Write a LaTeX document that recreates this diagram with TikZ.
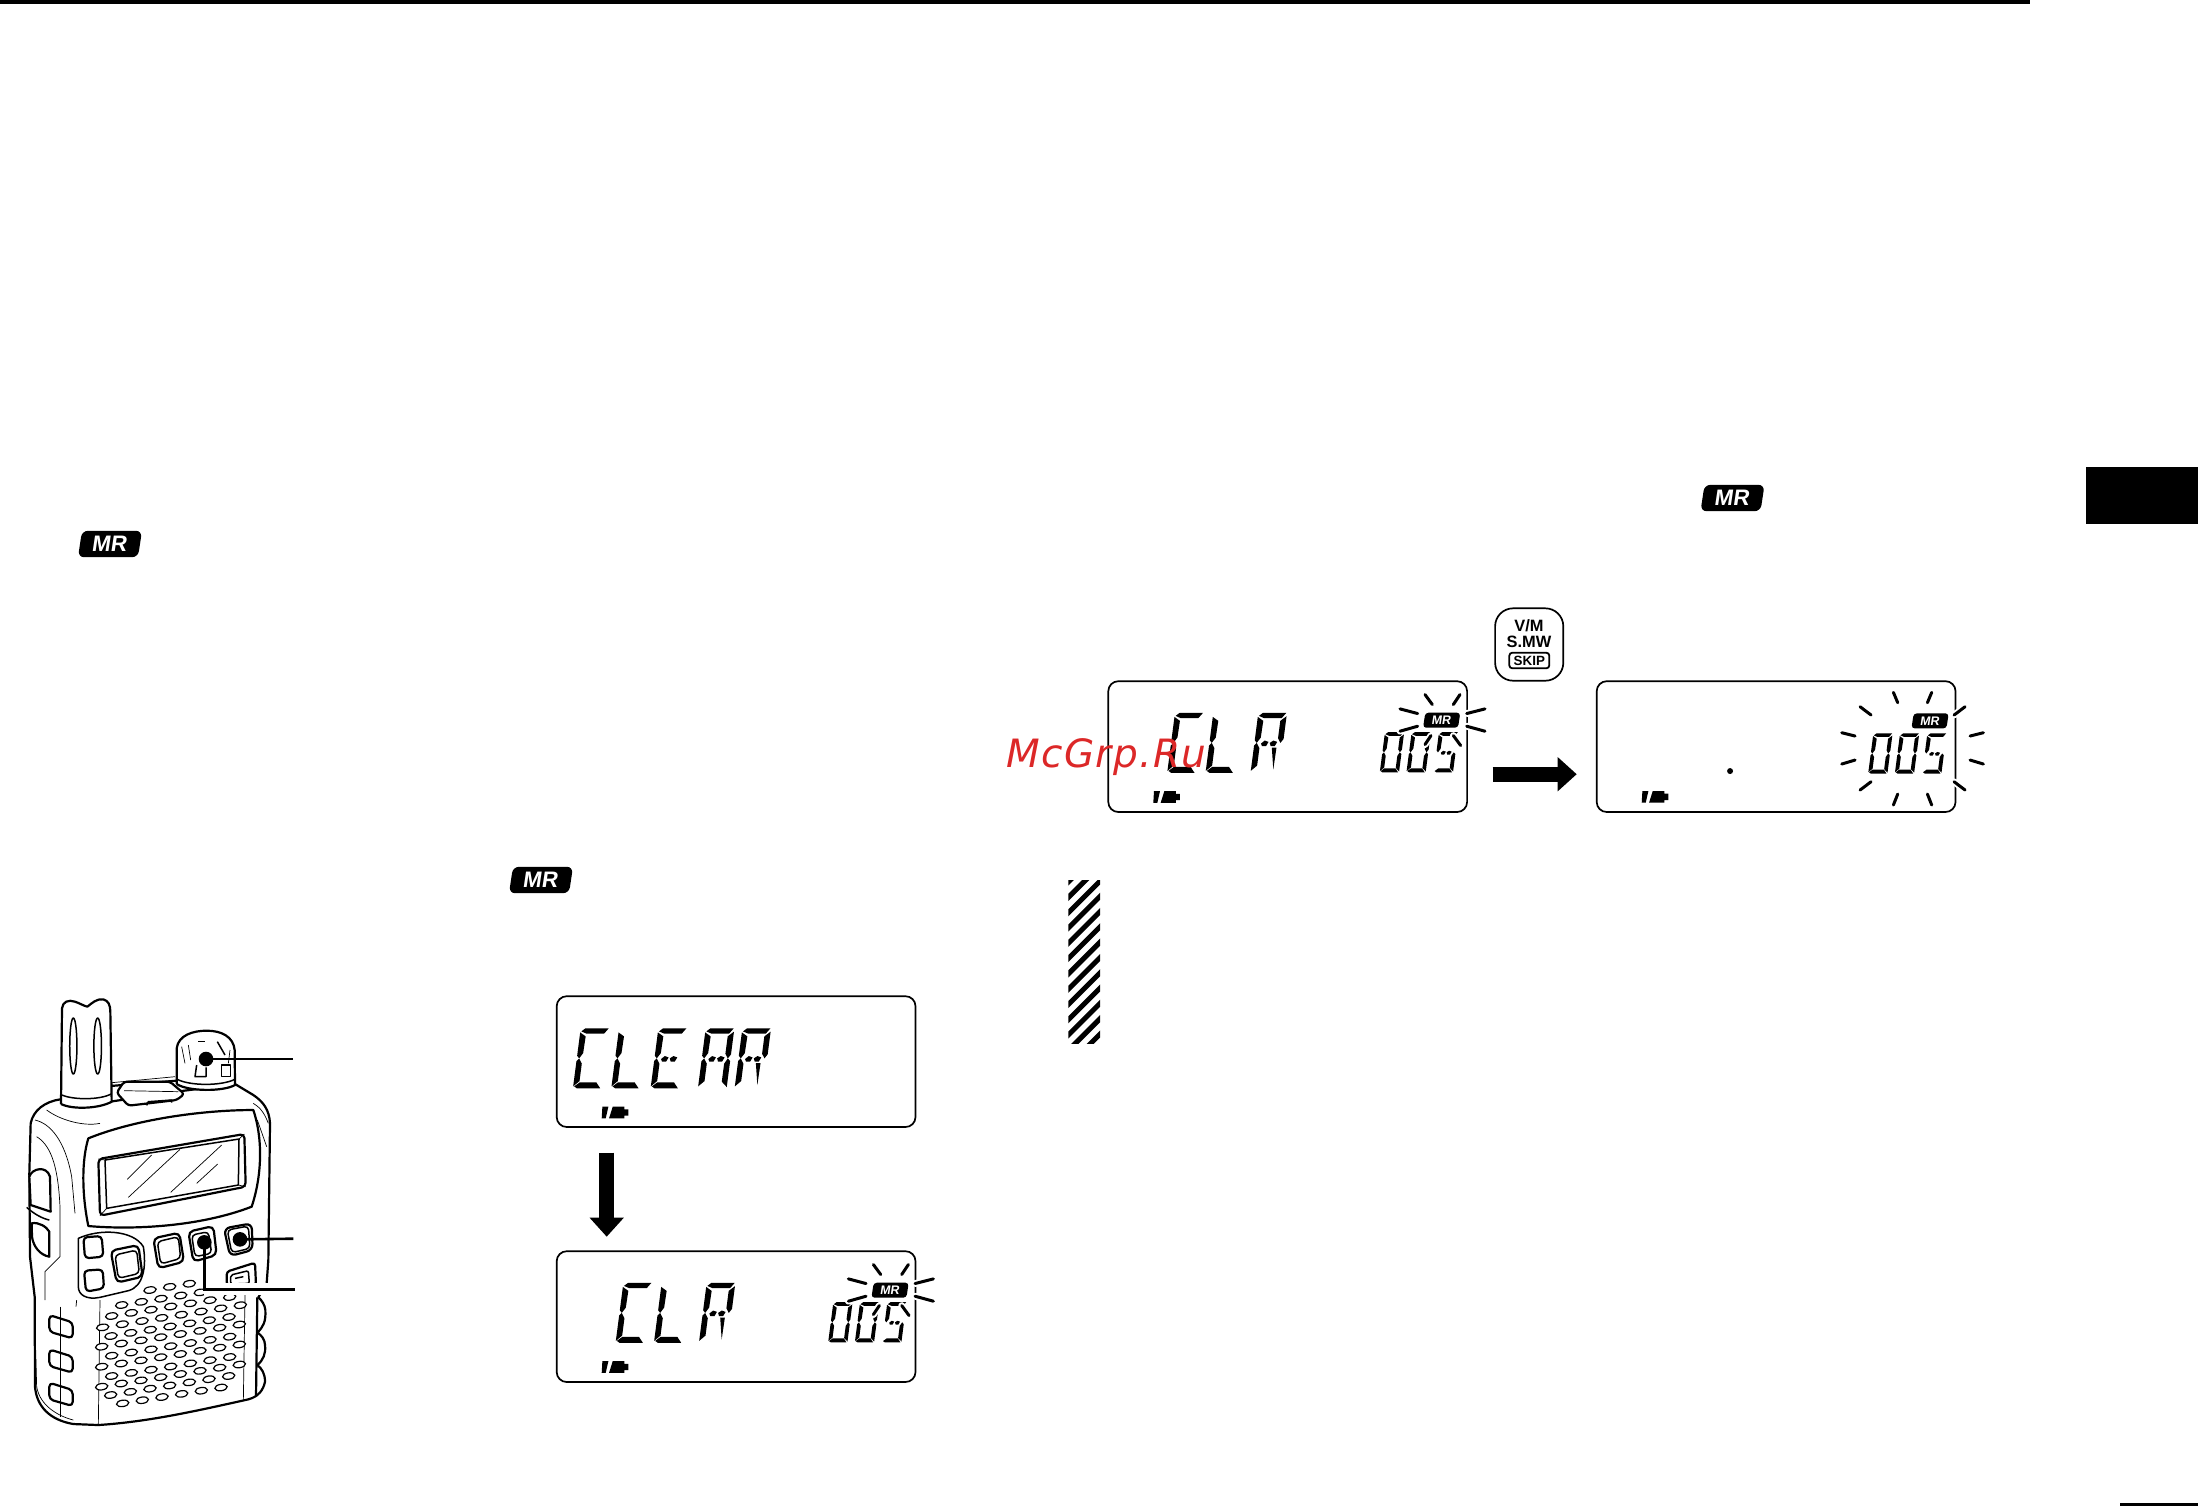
\documentclass[tikz,border=0pt]{standalone}
\usepackage{fontspec}
\setmainfont{Liberation Sans}
\newfontfamily\markfont[LetterSpace=3.6]{DejaVu Sans}
\usetikzlibrary{arrows.meta}

\tikzset{
  lcdframe/.style={draw,line width=.85pt,rounded corners=5pt,minimum width=179.4pt,minimum height=65.4pt,inner sep=0pt,outer sep=0pt,anchor=north west},
  lcdtag/.style={fill=black,text=white,rounded corners=1.6pt,minimum width=17.5pt,minimum height=7.5pt,inner sep=0pt,font=\fontsize{6.2}{6}\selectfont\bfseries,xslant=.15,transform shape},
  mrtag/.style={fill=black,text=white,rounded corners=3pt,minimum width=30pt,minimum height=13.2pt,inner sep=0pt,font=\fontsize{11.2}{12}\selectfont\bfseries,xslant=.15,transform shape},
  lcdray/.style={line width=1.5pt,line cap=round},
  rayhalo/.style={line width=3.4pt,white,line cap=round},
  bigarrow/.style={line width=7.5pt,-{Triangle[length=9.5pt,width=16.5pt]}},
  radiobold/.style={line width=1.1pt,line join=round},
  radioline/.style={line width=.75pt,line join=round},
  radiothin/.style={line width=.35pt},
  speakerhole/.style={line width=.6pt},
  calldot/.style={circle,fill=black,inner sep=0pt,minimum size=7.3pt},
  leader/.style={line width=1.3pt},
  leaderhalo/.style={line width=6pt,white},
  hatchline/.style={line width=2.5pt}
}

\newcommand{\sega}{\fill (3,9) -- (14,0) -- (84,0) -- (72,16) -- (20,16) -- cycle ;}
\newcommand{\segb}{\fill (86,10) -- (86,78) -- (78,90) -- (69,76) -- (69,24) -- cycle ;}
\newcommand{\segc}{\fill (69,106) -- (78,90) -- (86,98) -- (86,176) -- (69,160) -- cycle ;}
\newcommand{\segd}{\fill (3,174) -- (18,162) -- (68,162) -- (82,180) -- (12,180) -- cycle ;}
\newcommand{\sege}{\fill (0,98) -- (7,90) -- (17,106) -- (17,158) -- (0,174) -- cycle ;}
\newcommand{\segf}{\fill (0,12) -- (18,24) -- (17,74) -- (7,90) -- (0,82) -- cycle ;}
\newcommand{\segg}{\fill (20,92) -- (30,83) -- (42,87) -- (36,100) -- (24,100) -- cycle ;}
\newcommand{\segh}{\fill (46,90) -- (56,83) -- (68,87) -- (62,100) -- (50,100) -- cycle ;}
\newcommand{\segk}{\fill (54,104) -- (68,104) -- (67,170) -- cycle ;}

\newcommand{\lcdglyph}[4]{%
  \begin{scope}[shift={(#1,#2)},scale=#3,xslant=.13]
    \foreach \seg in {#4} {\csname seg\seg\endcsname}
  \end{scope}}

\newcommand{\lcdbattery}[2]{%
  \begin{scope}[shift={(#1,#2)}]
    \fill (2,0) -- (20,0) -- (12,35) -- (0,35) -- cycle ;
    \fill (33,0) -- (68,0) -- (68,8) -- (80,8) -- (80,27) -- (68,27) -- (68,35) -- (22,35) -- cycle ;
  \end{scope}}

\newcommand{\lcdclr}[3]{%
  \node[lcdframe] (#1) at (#2,#3) {} ;
  \begin{scope}[shift={(#2,#3)},x=.16667pt,y=-.16667pt]
    \lcdglyph{200}{95}{1}{a,f,e,d}
    \lcdglyph{315}{95}{1}{f,e,d}
    \lcdglyph{450}{95}{1}{a,b,f,e,g,h,k}
    \lcdglyph{830}{153}{.67}{a,b,c,d,e,f}
    \lcdglyph{910}{153}{.67}{a,b,c,d,e,f}
    \lcdglyph{992}{153}{.67}{a,f,g,h,c,d}
    \foreach \xa/\ya/\xb/\yb in {875/83/928/97,875/150/928/135,950/40/972/70,1055/40/1035/70,1075/97/1130/83,1075/135/1130/150,968/163/950/190,1035/163/1057/193} {
      \draw[rayhalo] (\xa,\ya) -- (\xb,\yb) ;
      \draw[lcdray] (\xa,\ya) -- (\xb,\yb) ;
    }
    \node[lcdtag] (#1tag) at (1000,117) {MR} ;
    \lcdbattery{135}{330}
  \end{scope}}

\begin{document}
\begin{tikzpicture}[x=.5pt,y=-.5pt]
\useasboundingbox (0,0) rectangle (2198,1506) ;

\fill (0,0) rectangle (2030,4) ;
\fill (2086,467) rectangle (2198,524) ;
\fill (2120,1503) rectangle (2198,1506) ;

\node[mrtag] (mrleft) at (110,544) {MR} ;
\node[mrtag] (mrmiddle) at (541,880) {MR} ;
\node[mrtag] (mrright) at (1732.5,498) {MR} ;

\begin{scope}[shift={(0,960)},x=.16667pt,y=-.16667pt]
\draw[radiothin] (335,368) -- (525,350) ;
\draw[radiobold] (330,378) -- (530,362) ;
\draw[radiobold,fill=white] (180,418) .. controls (135,425) and (100,450) .. (92,490) -- (88,640) -- (90,890) -- (104,1010) -- (105,1280) .. controls (110,1340) and (150,1380) .. (220,1392) -- (295,1395) .. controls (450,1385) and (600,1350) .. (745,1318) .. controls (775,1310) and (790,1290) .. (795,1265) .. controls (795,1240) and (785,1225) .. (772,1215) .. controls (790,1200) and (798,1180) .. (795,1155) .. controls (795,1140) and (785,1125) .. (772,1118) .. controls (790,1100) and (798,1085) .. (796,1050) .. controls (795,1035) and (785,1020) .. (775,1012) -- (800,970) -- (805,900) -- (810,490) .. controls (808,450) and (790,425) .. (760,405) -- (705,372) -- (530,395) -- (330,425) -- cycle ;
\draw[radiothin] (105,480) .. controls (150,490) and (195,540) .. (215,650) -- (225,760) ;
\draw[radiothin] (140,450) .. controls (180,480) and (250,500) .. (300,490) ;
\draw[radiothin] (110,530) .. controls (160,560) and (175,640) .. (180,740) -- (180,890) -- (135,935) -- (135,1020) ;
\draw[radiobold] (772,1012) -- (768,1310) ;
\draw[radiothin] (735,1005) -- (730,1322) ;
\draw[radiothin] (300,1020) -- (295,1392) ;
\draw[radiothin] (230,1020) -- (228,1040) ;
\draw[radiothin] (180,1040) -- (180,1370) ;
\draw[radiothin] (805,490) .. controls (790,450) and (775,440) .. (760,430) ;
\draw[radiothin] (772,480) -- (800,560) ;
\draw[radiothin] (105,1100) -- (110,1280) .. controls (120,1340) and (180,1370) .. (220,1380) ;

\draw[radiobold,fill=white] (183,432) -- (186,145) .. controls (188,125) and (205,118) .. (225,125) .. controls (240,130) and (250,137) .. (262,140) .. controls (275,130) and (290,115) .. (310,118) .. controls (325,122) and (331,135) .. (331,155) -- (335,425) .. controls (300,445) and (220,450) .. (183,432) ;
\draw[radioline] (186,405) .. controls (220,420) and (300,420) .. (333,402) ;
\draw[radioline] (220,258) ellipse [x radius=1.8pt,y radius=14pt] ;
\draw[radioline] (293,258) ellipse [x radius=1.9pt,y radius=14pt] ;

\draw[radiobold,fill=white,rounded corners=1.5pt] (350,398) -- (372,365) -- (510,365) -- (553,402) -- (530,420) -- (385,437) -- cycle ;
\draw[radiothin] (372,392) -- (535,395) ;
\draw[radioline] (440,436) -- (445,425) -- (515,420) -- (515,428) ;

\draw[radiobold,fill=white] (530,372) -- (530,265) .. controls (535,225) and (580,212) .. (620,212) .. controls (665,212) and (700,230) .. (704,270) -- (705,375) .. controls (670,395) and (565,395) .. (530,372) ;
\draw[radioline] (532,358) .. controls (570,378) and (665,378) .. (704,358) ;
\draw[radiothin] (545,260) -- (555,310) ;
\draw[radiothin] (565,255) -- (572,300) ;
\draw[radiothin] (690,270) -- (685,310) ;
\draw[radioline] (595,245) -- (615,245) ;
\draw[radioline] (590,315) -- (585,350) -- (618,350) -- (618,322) ;
\draw[radioline] (652,245) -- (675,285) ;
\draw[radioline] (665,315) -- (665,350) -- (692,350) -- (692,315) -- cycle ;

\draw[radiobold,fill=white] (265,535) .. controls (400,480) and (600,450) .. (760,450) .. controls (790,540) and (785,650) .. (755,740) .. controls (600,800) and (400,810) .. (265,798) .. controls (245,700) and (245,600) .. (265,535) -- cycle ;
\draw[radiobold,fill=white,rounded corners=2pt] (295,597) -- (733,522) -- (737,680) -- (300,767) -- cycle ;
\draw[radioline] (315,600) -- (717,537) -- (715,675) -- (320,745) -- cycle ;
\draw[radiothin] (295,597) -- (315,600) (733,522) -- (717,537) (737,680) -- (715,675) (300,767) -- (320,745) ;
\draw[radiothin] (382,658) -- (455,585) ;
\draw[radiothin] (385,712) -- (540,568) ;
\draw[radiothin] (512,697) -- (665,555) ;
\draw[radiothin] (590,670) -- (653,612) ;

\draw[radiobold,fill=white] (88,650) .. controls (95,625) and (140,615) .. (150,650) -- (152,755) -- (92,735) -- cycle ;
\draw[radioline] (80,742) .. controls (100,760) and (125,775) .. (148,780) ;
\draw[radiobold,fill=white] (95,790) .. controls (115,785) and (140,800) .. (148,815) -- (148,890) .. controls (120,885) and (100,860) .. (96,830) -- cycle ;

\draw[radioline,fill=white] (235,835) .. controls (300,805) and (400,810) .. (430,860) .. controls (440,920) and (430,980) .. (385,992) -- (300,1012) .. controls (260,1020) and (235,1005) .. (235,980) -- cycle ;
\draw[radiobold,fill=white,rounded corners=2pt] (250,832) -- (305,828) -- (310,890) -- (255,895) -- cycle ;
\draw[radiobold,fill=white,rounded corners=2pt] (252,932) -- (308,928) -- (312,985) -- (258,995) -- cycle ;
\draw[radiobold,fill=white,rounded corners=2.5pt] (332,872) -- (415,855) -- (428,950) -- (350,968) -- cycle ;
\draw[radioline,rounded corners=2pt] (345,885) -- (410,870) -- (418,940) -- (355,955) -- cycle ;
\draw[radiobold,fill=white,rounded corners=2.5pt] (460,835) -- (538,818) -- (552,905) -- (475,925) -- cycle ;
\draw[radioline,rounded corners=2pt] (472,845) -- (535,830) -- (542,895) -- (482,912) -- cycle ;
\draw[radiobold,fill=white,rounded corners=2.5pt] (565,815) -- (640,798) -- (650,885) -- (580,905) -- cycle ;
\draw[radioline,rounded corners=2pt] (575,825) -- (625,815) -- (635,880) -- (585,890) -- cycle ;
\draw[radiobold,fill=white,rounded corners=3pt] (672,805) -- (755,790) -- (758,870) -- (690,888) -- cycle ;
\draw[radioline,rounded corners=2pt] (682,810) -- (745,798) -- (750,865) -- (695,878) -- cycle ;
\draw[radiobold,fill=white,rounded corners=1.5pt] (680,935) -- (765,908) -- (768,975) -- (680,975) -- cycle ;
\draw[radioline,rounded corners=1pt] (692,945) -- (745,932) -- (748,970) -- (692,972) -- cycle ;
\draw[radioline] (705,955) -- (730,950) ;

\foreach \hy in {1065,1168,1268} {
  \draw[radiobold,fill=white,rounded corners=2pt] (148,\hy) -- (218,\hy+22) -- (218,\hy+70) -- (148,\hy+50) -- cycle ;
  \draw[radiothin] (180,\hy) -- (180,\hy+60) ;
}

\foreach \hx/\hy/\hn in {450/990/2,365/1035/4,335/1068/6,308/1102/7,333/1128/6,305/1160/7,335/1187/6,305/1220/7,335/1248/6,305/1280/7,332/1305/6,368/1330/5} {
  \foreach \hi in {0,...,\hn} {
    \draw[speakerhole,fill=white] (\hx+59*\hi,\hy-9.5*\hi) ellipse [x radius=3.1pt,y radius=1.6pt,rotate=8] ;
  }
}

\draw[leaderhalo] (613,988) -- (885,988) ;

\node[calldot] (knobdot) at (618,297) {} ;
\node[calldot] (rightdot) at (720,838) {} ;
\node[calldot] (leftdot) at (613,847) {} ;
\coordinate (knobend) at (880,297) ;
\coordinate (rightend) at (880,836) ;
\coordinate (leftbend) at (613,988) ;
\coordinate (leftend) at (885,988) ;
\draw[leader] (knobdot.center) -- (knobend) ;
\draw[leader] (rightdot.center) -- (rightend) ;
\draw[leader] (leftdot.center) -- (leftbend) -- (leftend) ;
\end{scope}

\node[lcdframe] (clearlcd) at (556.7,996.2) {} ;
\begin{scope}[shift={(556.7,996.7)},x=.16667pt,y=-.16667pt]
\lcdglyph{72}{95}{1}{a,f,e,d}
\lcdglyph{187}{95}{1}{f,e,d}
\lcdglyph{305}{95}{1}{a,f,e,d,g,h}
\lcdglyph{447}{95}{1}{a,b,c,e,f,g,h}
\lcdglyph{557}{95}{1}{a,b,f,e,g,h,k}
\lcdbattery{135}{330}
\end{scope}

\lcdclr{clrlower}{556.7}{1251.2}
\lcdclr{clrupper}{1108.3}{681.2}

\node[lcdframe] (memlcd) at (1596.7,681.2) {} ;
\begin{scope}[shift={(1596.7,681.7)},x=.16667pt,y=-.16667pt]
\lcdglyph{830}{155}{.67}{a,b,c,d,e,f}
\lcdglyph{910}{155}{.67}{a,b,c,d,e,f}
\lcdglyph{992}{155}{.67}{a,f,g,h,c,d}
\foreach \xa/\ya/\xb/\yb in {890/32/903/63,1005/32/992/63,790/75/823/100,1105/75/1072/100,735/153/775/163,1160/153/1120/163,735/247/775/235,1160/247/1120/235,790/325/823/300,1105/325/1072/300,890/370/903/337,1005/370/992/337} {
  \draw[rayhalo] (\xa,\ya) -- (\xb,\yb) ;
  \draw[lcdray] (\xa,\ya) -- (\xb,\yb) ;
}
\node[lcdtag] (memlcdtag) at (1000,117.5) {MR} ;
\fill (400,268) circle [radius=1.5pt] ;
\lcdbattery{135}{328}
\end{scope}

\coordinate (downstart) at (606.7,1152.7) ;
\coordinate (downtip) at (606.7,1236.7) ;
\draw[bigarrow] (downstart) -- (downtip) ;
\coordinate (rightstart) at (1492.7,774.2) ;
\coordinate (righttip) at (1576.7,774.2) ;
\draw[bigarrow] (rightstart) -- (righttip) ;

\node[draw,line width=.85pt,rounded corners=9pt,minimum width=34.1pt,minimum height=36.2pt,inner sep=0pt] (vmkey) at (1529.2,644.5) {} ;
\node[font=\fontsize{8.2}{8}\selectfont\bfseries,inner sep=0pt] (vmtext) at (1529,625.7) {V/M} ;
\node[font=\fontsize{8.2}{8}\selectfont\bfseries,inner sep=0pt] (smwtext) at (1529,642) {S.MW} ;
\node[draw,line width=.9pt,rounded corners=1.5pt,minimum width=20pt,minimum height=7.8pt,inner sep=0pt,font=\fontsize{6.7}{7}\selectfont\bfseries] (skiptext) at (1529.3,660.5) {SKIP} ;

\begin{scope}
\clip (1068.3,880) rectangle (1100,1043.3) ;
\foreach \k in {0,...,13} {
  \draw[hatchline] (1060,890.4+15.3*\k) -- ++(60,-60) ;
}
\end{scope}

\node[anchor=base west,inner sep=0pt,text={rgb,255:red,220;green,40;blue,40},font=\markfont\itshape\fontsize{19.5}{20}\selectfont] (watermark) at (1006,767) {McGrp.Ru} ;
\end{tikzpicture}
\end{document}
